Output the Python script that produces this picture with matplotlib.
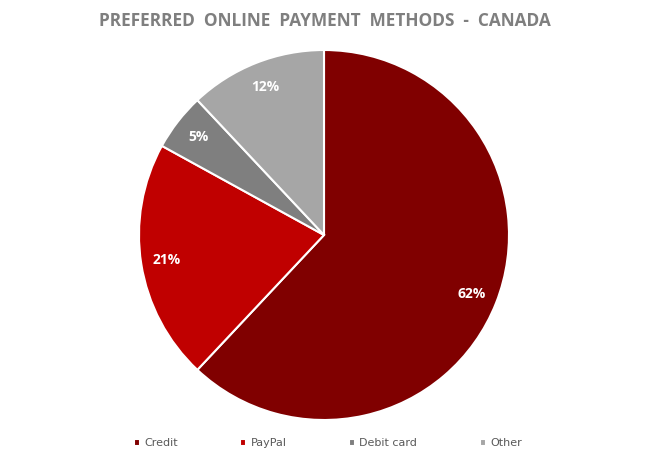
import matplotlib.pyplot as plt

# data
labels = ['Credit', 'PayPal', 'Debit card', 'Other']
values = [62, 21, 5, 12]
colors = ['#800000', '#C00000', '#7F7F7F', '#A6A6A6']

fig = plt.figure(figsize=(6.49, 4.68), dpi=100)
ax = fig.add_axes([139 / 649, 48 / 468, 370 / 649, 370 / 468])

wedges, texts, autotexts = ax.pie(
    values, colors=colors, startangle=90, counterclock=False,
    autopct='%1.0f%%', pctdistance=0.86,
    wedgeprops=dict(edgecolor='white', linewidth=1.5))
for t in autotexts:
    t.set_color('white')
    t.set_fontweight('bold')
    t.set_fontsize(10)
    t.set_family('Open Sans')
ax.set_xlim(-1, 1)
ax.set_ylim(-1, 1)
ax.set_aspect('equal')

fig.text(0.5, 0.955, 'PREFERRED  ONLINE  PAYMENT  METHODS  -  CANADA',
         ha='center', va='center', fontsize=12.4, fontweight='bold',
         color='#7F7F7F', family='Open Sans')

fig.legend(wedges, labels, loc='center', bbox_to_anchor=(0.505, 0.053), ncol=4,
           frameon=False, handlelength=0.55, handleheight=0.55, handletextpad=0.4,
           columnspacing=5.6, prop={'family': 'DejaVu Sans', 'size': 8},
           labelcolor='#595959')

fig.savefig('out.png', dpi=100)
